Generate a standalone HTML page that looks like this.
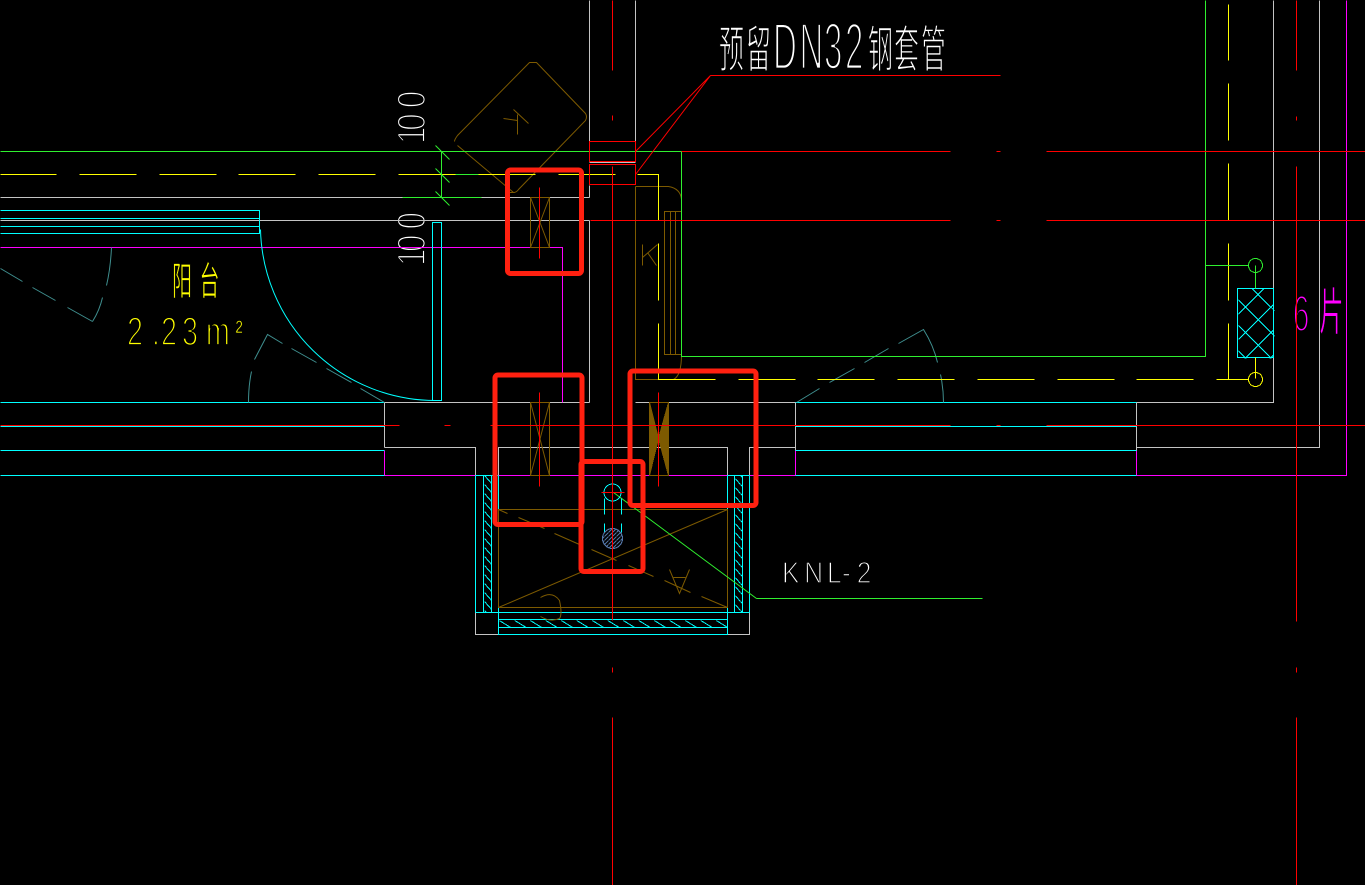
<!DOCTYPE html>
<html><head><meta charset="utf-8"><style>
html,body{margin:0;padding:0;background:#000;width:1365px;height:885px;overflow:hidden}
svg{display:block}
text{font-family:"Liberation Sans","Noto Sans CJK SC",sans-serif;stroke:#000}
path,line,rect,circle{fill:none;stroke-width:1}
</style></head><body>
<svg width="1365" height="885" viewBox="0 0 1365 885" xmlns="http://www.w3.org/2000/svg">
<defs>
<pattern id="h1" width="8" height="9" patternUnits="userSpaceOnUse" x="484" y="475"><path d="M0 0L8 9" stroke="#0ff" shape-rendering="crispEdges"/></pattern>
<pattern id="h2" width="15.5" height="8" patternUnits="userSpaceOnUse" x="498" y="619.5"><path d="M0 0L13 8" stroke="#0ff" shape-rendering="crispEdges"/></pattern>
<pattern id="h3" width="4" height="4" patternUnits="userSpaceOnUse"><path d="M0 4L4 0" stroke="#5577aa"/></pattern>
<clipPath id="cb"><rect x="1238" y="288" width="36" height="70"/></clipPath>
</defs>
<rect width="1365" height="885" stroke="none" style="fill:#000"/>

<!-- text layer -->
<text transform="translate(0,67) scale(1,2)" fill="#fff" style="stroke-width:.7"><tspan font-size="25" x="719 746" y="0">预留</tspan><tspan font-size="33" x="773 799.5 824 845" y="1" style="stroke-width:1.4">DN32</tspan><tspan font-size="25" x="868 894 921" y="0">钢套管</tspan></text>
<text transform="translate(425,144) rotate(-90) scale(.78,1)" font-size="40" fill="#fff" x="0 17 46" style="stroke-width:1.9">100</text>
<text transform="translate(425,266) rotate(-90) scale(.78,1)" font-size="40" fill="#fff" x="0 18 47" style="stroke-width:1.9">100</text>
<text transform="translate(0,295) scale(1,1.95)" font-size="20" fill="#ff0" x="172 199.5" style="stroke-width:.4">阳台</text>
<text transform="translate(0,345) scale(.72,1)" font-size="40" fill="#ff0" style="stroke-width:1.8"><tspan x="176.4 211 223.6 252.8 286">2.23m</tspan><tspan x="327" y="-4" font-size="30" style="stroke-width:.7">²</tspan></text>
<text transform="translate(0,583) scale(.85,1)" font-size="31" fill="#fff" x="920 946 973 990.6 1008" style="stroke-width:1.4">KNL-2</text>
<text transform="translate(0,331) scale(.58,1)" font-size="51" fill="#f0f" x="2229" style="stroke-width:2.2">6</text>
<text transform="translate(0,330) scale(.9,1.9)" font-size="27" fill="#f0f" x="1466" style="stroke-width:.5">片</text>

<g transform="translate(.5,.5)" shape-rendering="crispEdges">
<!-- gray -->
<path stroke="#c4c4c4" d="M589 0V141M589 185V197M589 162H635M0 197H402M481 197H589M0 220H589M589 220V402M635 0V141M384 402H589M635 402H795M384 402V447M384 447H475V634H498M727 634H749V447H795M498 475V447H727V475M1136 402H1273V0M1136 447H1319V0M795 402V450M1136 402V450"/>
<!-- magenta -->
<path stroke="#f0f" d="M0 247H562V402M384 450V475M795 450V475M1136 450V475M384 475H795M1136 475H1346V0"/>
<!-- cyan -->
<path stroke="#0ff" d="M0 210H259V233H0M0 218H259M0 226H259M432 222H441V400H432ZM0 402H384M0 426H384M0 450H384M0 475H384M795 402H1136M795 426H1136M795 450H1136M795 475H1136M475 475V612M483 475V612M491 475V612M498 475V634H727V475M734 475V612M742 475V612M749 475V612M475 612H749M498 619H727M498 627H727M475 475H498M727 475H749"/>
<path stroke="#0ff" shape-rendering="auto" d="M260 229A175 175 0 0 0 435 400"/>
<rect x="484" y="475" width="7" height="137" style="fill:url(#h1)" stroke="none"/>
<rect x="735" y="475" width="7" height="137" style="fill:url(#h1)" stroke="none"/>
<rect x="499" y="620" width="228" height="7" style="fill:url(#h2)" stroke="none"/>
<rect x="1237" y="288" width="36" height="69" stroke="#0ff"/>
<g clip-path="url(#cb)">
<path stroke="#0ff" d="M1238 313.7L1263.7 288M1238 339L1273 304M1238 364.3L1273 329.3M1252.3 375L1273 354.7"/>
<path stroke="#0ff" d="M1226.3 288L1296.3 358M1251.7 288L1321.7 358M1201 288L1271 358M1175.7 288L1245.7 358"/>
</g>
<!-- teal doors -->
<path stroke="#3f8f8f" shape-rendering="auto" d="M0 268L22 281M32 287L55 300M67 307L92 321M92 321Q99 310 102 297M106 285Q110 268 111 247M384 402L360 388M351 382L326 368M316 362L291 348M282 343L267 334L254 359M251 371Q248 385 248 402M796 402L819 388M829 382L854 368M864 362L888 348M898 343L923 329Q933 345 937 362M940 374Q943 388 943 402"/>
<!-- brown -->
<path stroke="#7d5a00" shape-rendering="auto" d="M457 145L513 192H506M513 192Q516 192 518 189L585 120Q587 116 585 113L536 62H529L457 135Q454 139 454 141M503 118L517 120M517 114V134M513 109L528 123M530 197V247H549V197ZM530 197L549 247M549 197L530 247M530 402V475H549V402ZM530 402L549 475M549 402L530 475M649 402V475H668V402ZM498 509H727V607H498ZM498 607L727 509M498 509L507 513M518 517L544 528M554 533L579 544M591 549L616 560M628 565L653 576M664 580L690 592M701 596L727 607M669 569L679 593L689 569M673 577H685M540 597Q552 590 559 600Q562 614 559 618Q550 622 540 616M635 186V379H673Q681 375 681 354M635 186H668Q680 188 681 199M664 211H681V354H664ZM670 211V354M675 211V354M642 244V265M642 257L657 244M647 252L656 265"/>
<path d="M649 402L658 438L649 475ZM668 402L658 438L668 475Z" stroke="#7d5a00" style="fill:#7d5a00"/>
<!-- yellow -->
<path stroke="#ff0" d="M0 174H56M79 174H136M159 174H216M238 174H295M318 174H375M398 174H455M478 174H535M558 174H615M637 174H658V220M658 243V300M658 323V379H715M738 379H795M817 379H874M897 379H954M977 379H1034M1057 379H1114M1136 379H1193M1216 379H1248M1228 379V323M1228 300V243M1228 220V163M1228 140V83M1228 60V4M1255 357V378"/>
<circle cx="1255" cy="379" r="7" stroke="#ff0"/>
<!-- green -->
<path stroke="#2fef2f" d="M0 151H681V356H1205V0M402 197H481M455 174H478M441 151V197M1205 265H1248M1255 265V288M756 598H982"/>
<path stroke="#2fef2f" shape-rendering="auto" d="M435 145L449 159M435 168L449 182M435 191L449 205M613 492L756 598"/>
<circle cx="1255" cy="265" r="7" stroke="#2fef2f"/>
<!-- dashed cyan pipe -->
<circle cx="612" cy="492" r="8.5" stroke="#0ff"/>
<path stroke="#0ff" d="M604 498V514M604 523V532M621 498V514M621 523V532"/>
<circle cx="612" cy="538" r="10" stroke="#5577aa" style="fill:url(#h3)"/>
<!-- red -->
<path stroke="#f00" d="M612 0V70M612 115V120M612 166V620M612 667V672M612 717V885M1296 0V70M1296 116V120M1296 166V621M1296 667V672M1296 717V885M589 141H635V161H589ZM589 164H635V184H589ZM710 75H1000M681 151H950M996 151H1000M1046 151H1365M590 220H950M996 220H1000M1046 220H1365M539 187V258M539 392V486M658 392V486M601 492H624M0 425H399M444 425H450M490 425H950M996 425H1000M1046 425H1365"/>
<path stroke="#f00" shape-rendering="auto" d="M635 151L710 75L635 174"/>
</g>
<!-- highlight boxes -->
<g stroke="#ff2010">
<rect x="507.5" y="170" width="74" height="103.5" rx="3" style="stroke-width:5"/>
<rect x="495" y="375" width="87" height="149.5" rx="3" style="stroke-width:5"/>
<rect x="630" y="371" width="126" height="134.5" rx="3" style="stroke-width:5"/>
<rect x="581" y="461.5" width="62" height="110" rx="3" style="stroke-width:5"/>
</g>
</svg>
</body></html>
